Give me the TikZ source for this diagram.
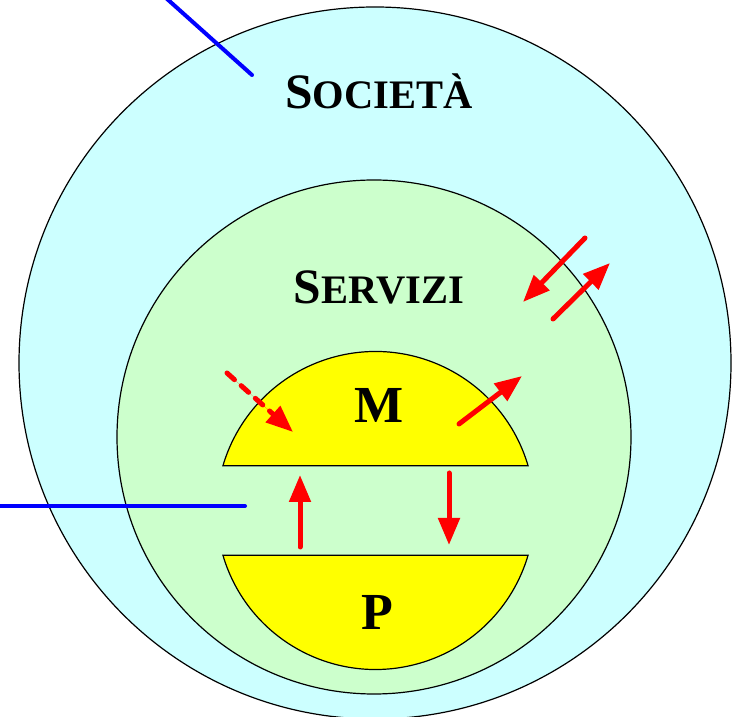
\documentclass[tikz,border=0pt]{standalone}
\usepackage{fontspec}
\setmainfont{Liberation Serif}
\usetikzlibrary{arrows.meta}
\definecolor{socfill}{HTML}{CCFFFF}
\definecolor{servfill}{HTML}{CCFFCC}
\definecolor{yel}{HTML}{FFFF00}
\definecolor{myred}{HTML}{FF0000}
\definecolor{myblue}{HTML}{0000FF}
\tikzset{
  ring/.style={draw=black, line width=1.2pt},
  flowarrow/.style={draw=myred, fill=myred, line width=5pt, line cap=round,
    -{Triangle[length=27pt,width=21pt]}},
  dashflow/.style={flowarrow, dash pattern=on 10pt off 9pt},
  pointer/.style={draw=myblue, line width=4pt, line cap=round},
  bigcap/.style={font=\bfseries\fontsize{49.5}{49.5}\selectfont, anchor=base},
  letter/.style={font=\bfseries\fontsize{52}{52}\selectfont, anchor=base},
}
\newcommand{\smallcapsfake}[2]{#1{\fontsize{40.5}{40.5}\selectfont #2}}
\begin{document}
\begin{tikzpicture}[x=1pt,y=1pt]
\useasboundingbox (0,0) rectangle (736,717);
\begin{scope}
\clip (0,0) rectangle (736,717);
% outer circle: society
\draw[ring, fill=socfill] (375,354) circle[radius=356];
% inner circle: services
\draw[ring, fill=servfill] (374,280) circle[radius=257];
\end{scope}
% segments
\coordinate (c) at (375.5,206.5);
\draw[ring, fill=yel] (c) ++(16.36:159) arc[start angle=16.36, end angle=163.64, radius=159] -- cycle;
\draw[ring, fill=yel] (c) ++(196.36:159) arc[start angle=196.36, end angle=343.64, radius=159] -- cycle;
% texts
\node[bigcap] (soc) at (379,608.7) {\smallcapsfake{S}{OCIETÀ}};
\node[bigcap] (serv) at (379,413) {\smallcapsfake{S}{ERVIZI}};
\node[letter] (m) at (379,294) {M};
\node[letter] (p) at (377,87) {P};
% arrows
\coordinate (d1) at (227,344);
\coordinate (d2) at (293,285);
\coordinate (o1) at (459,293);
\coordinate (o2) at (522,341);
\coordinate (u1) at (300,170);
\coordinate (u2) at (300,242);
\coordinate (w1) at (449,244);
\coordinate (w2) at (449,172);
\coordinate (i1) at (585,479);
\coordinate (i2) at (523,415);
\coordinate (x1) at (553,398);
\coordinate (x2) at (610,454);
\draw[dashflow] (d1) -- (d2);
\draw[flowarrow] (o1) -- (o2);
\draw[flowarrow] (u1) -- (u2);
\draw[flowarrow] (w1) -- (w2);
\draw[flowarrow] (i1) -- (i2);
\draw[flowarrow] (x1) -- (x2);
% blue pointers
\coordinate (b1) at (166,719);
\coordinate (b2) at (252,642);
\coordinate (b3) at (-2,211);
\coordinate (b4) at (245,211);
\draw[pointer] (b1) -- (b2);
\draw[pointer] (b3) -- (b4);
\end{tikzpicture}
\end{document}
